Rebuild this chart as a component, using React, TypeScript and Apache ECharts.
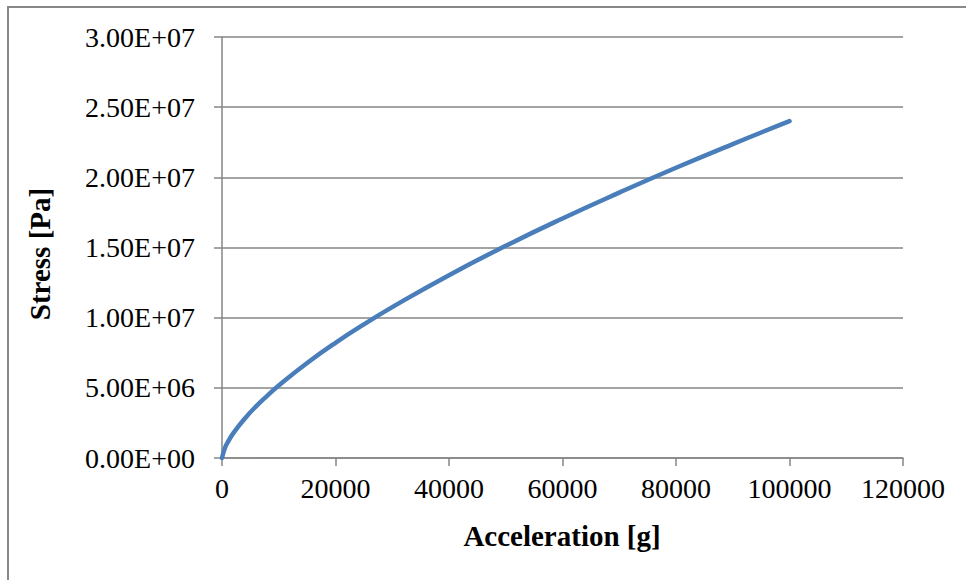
import React, { useEffect, useRef } from "react";
import * as echarts from "echarts";

const accelerationG = [0, 500, 1000, 2000, 4000, 6000, 8000, 10000, 15000, 20000, 25000, 30000, 40000, 50000, 60000, 70000, 80000, 90000, 100000];
const stressPa = [0, 7.0e5, 1.11e6, 1.77e6, 2.8e6, 3.68e6, 4.45e6, 5.17e6, 6.77e6, 8.21e6, 9.52e6, 1.075e7, 1.303e7, 1.512e7, 1.707e7, 1.891e7, 2.068e7, 2.237e7, 2.4e7];
const xTitle = "Acceleration [g]";
const yTitle = "Stress [Pa]";

const FONT = '"Liberation Serif", "Times New Roman", serif';

function sci(v: number): string {
  if (v === 0) return "0.00E+00";
  const e = Math.floor(Math.log10(Math.abs(v)));
  const m = v / Math.pow(10, e);
  const es = (e < 0 ? "-" : "+") + String(Math.abs(e)).padStart(2, "0");
  return m.toFixed(2) + "E" + es;
}

export default function App() {
  const ref = useRef<HTMLDivElement>(null);
  useEffect(() => {
    if (!ref.current) return;
    const chart = echarts.init(ref.current, null, { renderer: "svg" });
    const gray = "#868686";
    chart.setOption({
      animation: false,
      backgroundColor: "#ffffff",
      grid: { left: 222, right: 63, top: 37, bottom: 122, containLabel: false },
      xAxis: {
        type: "value",
        min: 0,
        max: 120000,
        interval: 20000,
        axisLine: { show: true, lineStyle: { color: gray, width: 1.5 } },
        axisTick: { show: true, length: 8, lineStyle: { color: gray, width: 1.5 } },
        axisLabel: { color: "#000", fontFamily: FONT, fontSize: 28, margin: 16, formatter: (v: number) => String(v) },
        splitLine: { show: false },
      },
      yAxis: {
        type: "value",
        min: 0,
        max: 30000000,
        interval: 5000000,
        axisLine: { show: true, lineStyle: { color: gray, width: 1.5 } },
        axisTick: { show: true, length: 8, lineStyle: { color: gray, width: 1.5 } },
        axisLabel: { color: "#000", fontFamily: FONT, fontSize: 28, margin: 27, formatter: (v: number) => sci(v) },
        splitLine: { show: true, lineStyle: { color: gray, width: 1.5 } },
      },
      graphic: [
        {
          type: "rect",
          shape: { x: 8, y: 7, width: 1200, height: 1200 },
          style: { fill: "none", stroke: "#888888", lineWidth: 2 },
          silent: true,
        },
        {
          type: "text",
          x: 562,
          y: 536,
          style: { text: xTitle, font: `bold 29px ${FONT}`, fill: "#000", align: "center", verticalAlign: "middle" },
        },
        {
          type: "text",
          x: 40,
          y: 254,
          rotation: Math.PI / 2,
          style: { text: yTitle, font: `bold 29px ${FONT}`, fill: "#000", align: "center", verticalAlign: "middle" },
        },
      ],
      series: [
        {
          type: "line",
          data: accelerationG.map((x, i) => [x, stressPa[i]]),
          smooth: true,
          showSymbol: false,
          lineStyle: { color: "#4a7ebb", width: 4.5, cap: "round" },
          itemStyle: { color: "#4a7ebb" },
        },
      ],
    });
    return () => chart.dispose();
  }, []);
  return <div ref={ref} style={{ position: "absolute", left: 0, top: 0, width: 966, height: 580 }} />;
}
